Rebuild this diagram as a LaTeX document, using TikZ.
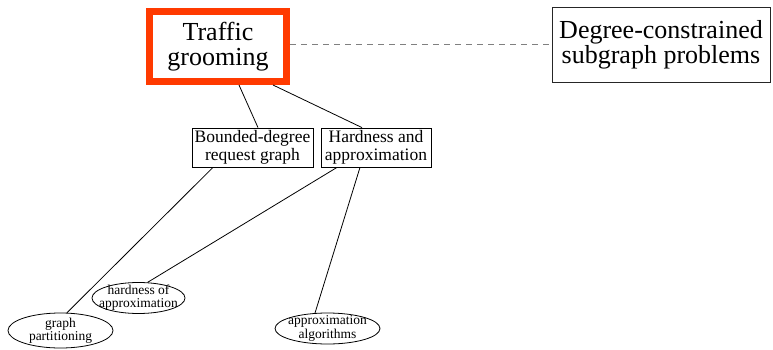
\documentclass[tikz,border=0pt]{standalone}
\usepackage{fontspec}
\setmainfont{Liberation Serif}
\usetikzlibrary{shapes.geometric,calc}
\definecolor{hilite}{HTML}{FF3A00}
\begin{document}
\begin{tikzpicture}[x=1pt,y=-1pt,
  bigbox/.style={draw=black!85, line width=0.9pt, inner sep=0pt, align=center,
    font=\fontsize{26}{25}\selectfont},
  hot/.style={draw=hilite, line width=7pt},
  midbox/.style={draw=black, line width=0.8pt, inner sep=0pt, align=center,
    font=\fontsize{17.5}{18}\selectfont},
  oval/.style={ellipse, draw=black, line width=0.8pt, inner ysep=-3pt, align=center,
    font=\fontsize{13.5}{13.2}\selectfont},
  link/.style={draw=black, line width=0.8pt},
  related/.style={draw=black!50, line width=1.2pt, dash pattern=on 6pt off 5pt}]
\useasboundingbox (0,0) rectangle (773,350);

% top row
\node[bigbox, hot, minimum width=137pt, minimum height=70pt] (tg) at (218,46.5) {Traffic\\grooming};
\node[bigbox, minimum width=218pt, minimum height=75pt] (dc) at (661,44.5) {Degree-constrained\\subgraph problems};

% second row
\node[midbox, minimum width=121pt, minimum height=39pt] (bd) at (252.5,147.5) {Bounded-degree\\request graph};
\node[midbox, minimum width=110pt, minimum height=39pt] (ha) at (376,147.5) {Hardness and\\approximation};

% leaves (tight ellipses: the text nearly touches the outline)
\node[oval, inner xsep=0pt, minimum width=105pt, minimum height=35pt] (gp) at (60.5,330.5) {graph\\partitioning};
\node[oval, inner xsep=-8pt, minimum width=93pt, minimum height=31pt] (hoa) at (138.5,298) {hardness of\\approximation};
\node[oval, inner xsep=-4pt, minimum width=105pt, minimum height=31pt] (aa) at (327.5,328.5) {approximation\\algorithms};

% connectors
\draw[related] (dc.west -| tg.east) -- (dc.west);
\draw[link] ([xshift=21pt]tg.south) -- ([xshift=5.5pt]bd.north);
\draw[link] ([xshift=55pt]tg.south) -- ([xshift=-14pt]ha.north);
\draw[link] ([xshift=-39.5pt]bd.south) -- (gp.70);
\draw[link] ([xshift=-39pt]ha.south) -- (hoa.60);
\draw[link] ([xshift=-16pt]ha.south) -- (aa.129);
\end{tikzpicture}
\end{document}
